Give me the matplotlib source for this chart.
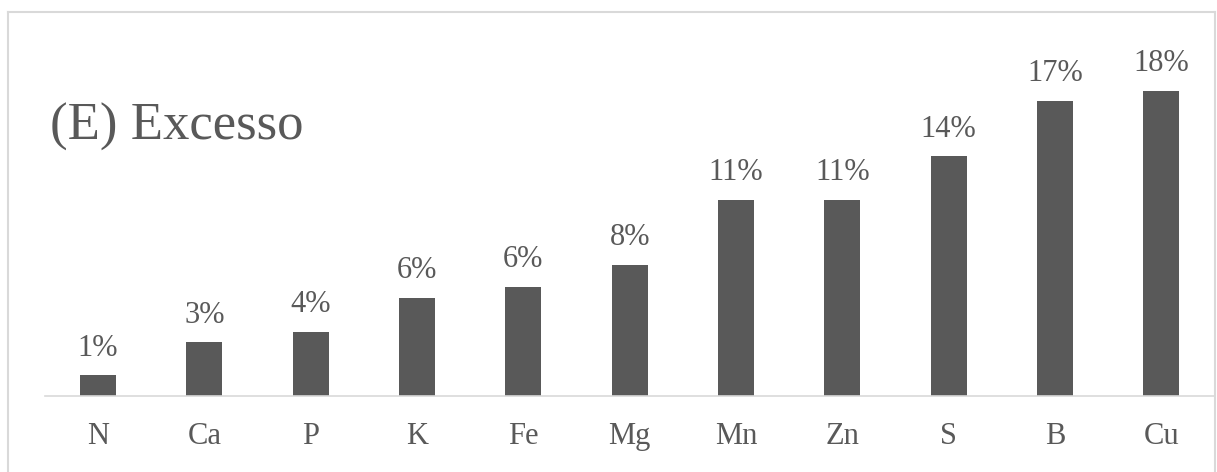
import matplotlib.pyplot as plt
from matplotlib.lines import Line2D

# data
nutrients = ['N', 'Ca', 'P', 'K', 'Fe', 'Mg', 'Mn', 'Zn', 'S', 'B', 'Cu']
excess = [1.20, 3.12, 3.74, 5.70, 6.34, 7.62, 11.40, 11.40, 13.95, 17.17, 17.75]
labels = ['1%', '3%', '4%', '6%', '6%', '8%', '11%', '11%', '14%', '17%', '18%']

plt.rcParams['font.family'] = ['Liberation Serif', 'DejaVu Serif']
grey = '#595959'

fig = plt.figure(figsize=(12.17, 4.72), dpi=100)
ax = fig.add_axes([0.0368, 0.161, 0.9612, 0.7288])

x = range(len(nutrients))
bars = ax.bar(x, excess, width=0.34, color=grey)
for b, lab in zip(bars, labels):
    ax.annotate(lab, (b.get_x() + b.get_width() / 2, b.get_height()),
                xytext=(0, 9), textcoords='offset points',
                ha='center', va='bottom', fontsize=22, color=grey)

ax.set_xlim(-0.5, len(nutrients) - 0.5)
ax.set_ylim(0, 20)
ax.set_xticks(list(x))
ax.set_xticklabels(nutrients, fontsize=22, color=grey)
ax.tick_params(axis='x', length=0, pad=19)
ax.set_yticks([])
for s in ['top', 'right', 'left']:
    ax.spines[s].set_visible(False)
ax.spines['bottom'].set_color('#d9d9d9')
ax.spines['bottom'].set_linewidth(1.2)

fig.text(50 / 1217, 1 - 140 / 472, '(E) Excesso', fontsize=38, color=grey,
         ha='left', va='baseline')

# outer chart frame
fx0, fx1 = 7.5 / 1217, 1215 / 1217
fy1 = 1 - 12 / 472
for xs, ys in [([fx0, fx1], [fy1, fy1]), ([fx0, fx0], [0, fy1]), ([fx1, fx1], [0, fy1])]:
    fig.add_artist(Line2D(xs, ys, color='#d9d9d9', linewidth=1.5, transform=fig.transFigure))

fig.savefig('out.png', dpi=100)
